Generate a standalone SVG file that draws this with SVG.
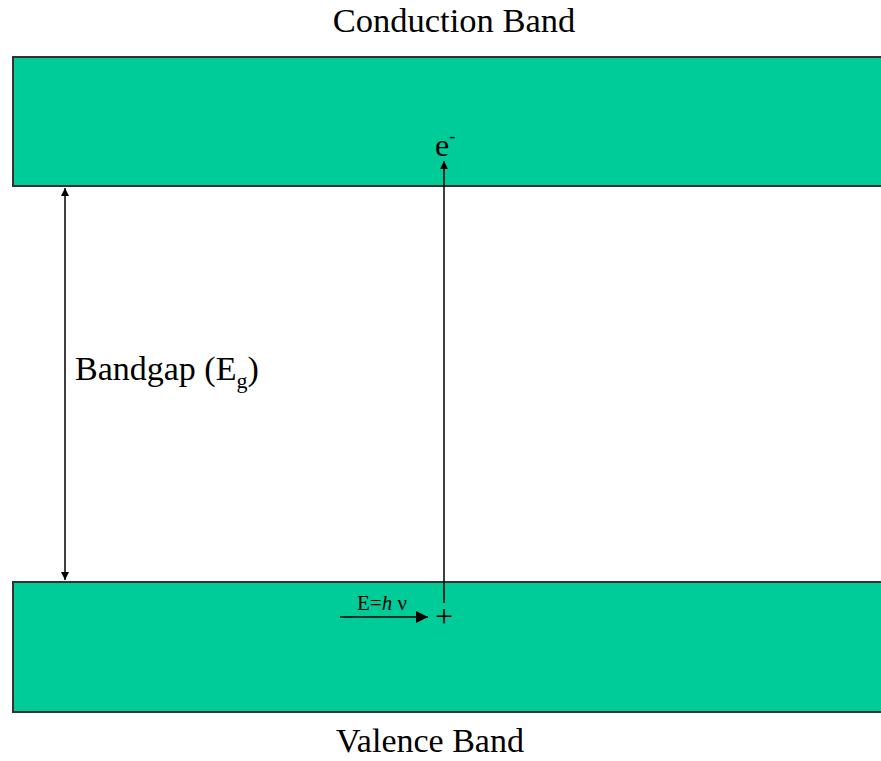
<svg xmlns="http://www.w3.org/2000/svg" width="881" height="761" viewBox="0 0 881 761">
<style>
.band{fill:#00CC99;stroke:#333;stroke-width:2}
.t{font-family:"Liberation Serif",serif;fill:#000}
.ln{stroke:#000;stroke-width:1.5;fill:none}
</style>
<defs>
<marker id="ah" viewBox="0 0 10 10" refX="10" refY="5" markerWidth="12" markerHeight="8" markerUnits="userSpaceOnUse" orient="auto-start-reverse"><path d="M0,0L10,5L0,10z" fill="#000"/></marker>
<marker id="ah2" viewBox="0 0 10 10" refX="10" refY="5" markerWidth="14" markerHeight="12" markerUnits="userSpaceOnUse" orient="auto"><path d="M0,0L10,5L0,10z" fill="#000"/></marker>
</defs>
<rect width="881" height="761" fill="#fff"/>
<g id="conduction">
<rect class="band" x="13" y="57" width="880" height="129"/>
<text class="t" x="454" y="32" font-size="34.5" text-anchor="middle">Conduction Band</text>
</g>
<g id="valence">
<rect class="band" x="13" y="582" width="880" height="130"/>
<text class="t" x="430" y="752" font-size="34" text-anchor="middle">Valence Band</text>
</g>
<g id="connectors">
<line class="ln" x1="65" y1="188" x2="65" y2="580" marker-start="url(#ah)" marker-end="url(#ah)"/>
<line class="ln" x1="444" y1="603" x2="444" y2="161" marker-end="url(#ah)"/>
<line class="ln" x1="340" y1="617" x2="428" y2="617" marker-end="url(#ah2)"/>
</g>
<g id="labels">
<text class="t" x="75" y="380" font-size="34">Bandgap (E<tspan font-size="22" dy="8">g</tspan><tspan dy="-8">)</tspan></text>
<text class="t" x="435" y="156" font-size="32">e<tspan font-size="18" dy="-14">-</tspan></text>
<text class="t" x="357" y="610" font-size="21">E=<tspan font-style="italic">h</tspan> ν</text>
<text class="t" x="444" y="627" font-size="32" text-anchor="middle">+</text>
</g>
</svg>
